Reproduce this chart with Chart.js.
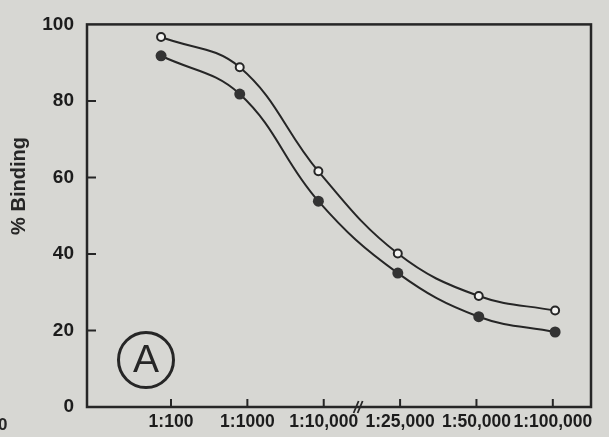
<!DOCTYPE html>
<html>
<head>
<meta charset="utf-8">
<script src="https://cdn.jsdelivr.net/npm/chart.js@4.4.1/dist/chart.umd.min.js"></script>
<style>
  html, body { margin: 0; padding: 0; background: #d7d7d3; overflow: hidden; }
  #chartBinding { display: block; }
</style>
</head>
<body>
<canvas id="chartBinding" width="609" height="437"></canvas>
<script>
const dilutionLabels = ["1:100", "1:1000", "1:10,000", "1:25,000", "1:50,000", "1:100,000"];
// where each measured point sits along the dilution axis (index units)
const pointPos = [-0.13, 0.9, 1.93, 2.97, 4.03, 5.03];
const openValues = [96.7, 88.8, 61.6, 40.1, 29.0, 25.2];
const filledValues = [91.8, 81.8, 53.8, 35.0, 23.6, 19.6];
const yTicks = [0, 20, 40, 60, 80, 100];

const INK = "#262626";
const BG = "#d7d7d3";

function toPoints(values) {
  return values.map((v, i) => ({ x: pointPos[i], y: v }));
}

const paperPlugin = {
  id: "paper",
  beforeDraw(chart) {
    const { ctx, width, height } = chart;
    ctx.save();
    ctx.fillStyle = BG;
    ctx.fillRect(0, 0, width, height);
    ctx.restore();
  },
  afterDraw(chart) {
    const { ctx, chartArea: a, scales } = chart;
    ctx.save();
    ctx.strokeStyle = INK;
    ctx.fillStyle = INK;

    // frame
    ctx.lineWidth = 2.5;
    ctx.strokeRect(a.left, a.top, a.right - a.left, a.bottom - a.top);

    // inward ticks
    ctx.lineWidth = 2;
    ctx.beginPath();
    dilutionLabels.forEach((_, i) => {
      const x = scales.x.getPixelForValue(i);
      ctx.moveTo(x, a.bottom);
      ctx.lineTo(x, a.bottom - 8);
    });
    yTicks.slice(1, -1).forEach((v) => {
      const y = scales.y.getPixelForValue(v);
      ctx.moveTo(a.left, y);
      ctx.lineTo(a.left + 9, y);
    });
    ctx.stroke();

    // axis break
    const bx = scales.x.getPixelForValue(2.47);
    ctx.lineWidth = 1.8;
    ctx.beginPath();
    ctx.moveTo(bx - 6, a.bottom + 6);
    ctx.lineTo(bx - 1, a.bottom - 6);
    ctx.moveTo(bx - 2, a.bottom + 6);
    ctx.lineTo(bx + 3, a.bottom - 6);
    ctx.stroke();

    // panel letter
    ctx.lineWidth = 3;
    ctx.beginPath();
    ctx.arc(146, 360, 27.5, 0, Math.PI * 2);
    ctx.stroke();
    ctx.font = "39px 'Liberation Sans', Arial, sans-serif";
    ctx.textAlign = "center";
    ctx.textBaseline = "middle";
    ctx.fillText("A", 146, 361);

    // y title
    ctx.save();
    ctx.translate(19, 186);
    ctx.rotate(-Math.PI / 2);
    ctx.font = "bold 20px 'Liberation Sans', Arial, sans-serif";
    ctx.fillText("% Binding", 0, 0);
    ctx.restore();

    // stray character at page edge
    ctx.font = "bold 17px 'Liberation Sans', Arial, sans-serif";
    ctx.textAlign = "left";
    ctx.fillText("0", -2, 425);

    ctx.restore();
  },
};

new Chart(document.getElementById("chartBinding").getContext("2d"), {
  type: "line",
  data: {
    datasets: [
      {
        label: "open",
        data: toPoints(openValues),
        borderColor: INK,
        borderWidth: 2,
        tension: 0.4,
        pointRadius: 4,
        pointBorderWidth: 2,
        pointBackgroundColor: "#f3f3f1",
        pointBorderColor: INK,
      },
      {
        label: "filled",
        data: toPoints(filledValues),
        borderColor: INK,
        borderWidth: 2,
        tension: 0.4,
        pointRadius: 5.5,
        pointBorderWidth: 0,
        pointBackgroundColor: "#333",
      },
    ],
  },
  options: {
    responsive: false,
    animation: false,
    layout: { padding: { left: 0, right: 18, top: 17, bottom: 0 } },
    plugins: { legend: { display: false }, tooltip: { enabled: false } },
    scales: {
      x: {
        type: "linear",
        min: -1.1,
        max: 5.5,
        afterFit: (s) => { s.height = 30; },
        afterBuildTicks: (s) => { s.ticks = dilutionLabels.map((_, i) => ({ value: i })); },
        grid: { display: false, drawTicks: false },
        border: { display: false },
        ticks: {
          callback: (v) => dilutionLabels[v],
          autoSkip: false,
          maxRotation: 0,
          padding: 5,
          color: "#1c1c1c",
          font: { family: "'Liberation Sans', Arial, sans-serif", size: 17.5, weight: "bold" },
        },
      },
      y: {
        min: 0,
        max: 100,
        afterFit: (s) => { s.width = 87; },
        afterBuildTicks: (s) => { s.ticks = yTicks.map((v) => ({ value: v })); },
        grid: { display: false, drawTicks: false },
        border: { display: false },
        ticks: {
          padding: 13,
          color: "#1c1c1c",
          font: { family: "'Liberation Sans', Arial, sans-serif", size: 19, weight: "bold" },
        },
      },
    },
  },
  plugins: [paperPlugin],
});
</script>
</body>
</html>
